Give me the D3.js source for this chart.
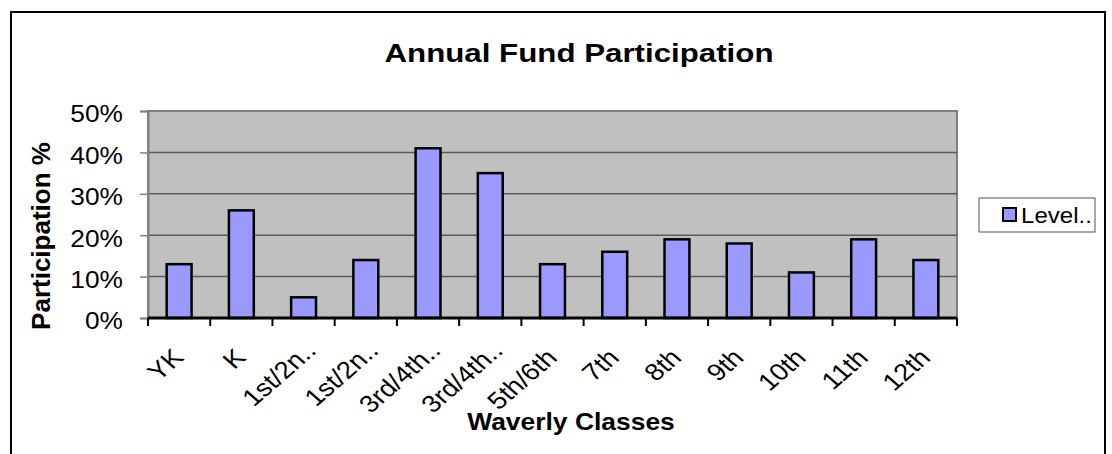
<!DOCTYPE html>
<html>
<head>
<meta charset="utf-8">
<script src="https://cdn.jsdelivr.net/npm/d3@7"></script>
<style>
  body { margin: 0; background: #fff; }
  text { font-family: "Liberation Sans", Arial, sans-serif; fill: #000; }
</style>
</head>
<body>
<svg id="chart"></svg>
<script>
var categories = ["YK", "K", "1st/2n..", "1st/2n..", "3rd/4th..", "3rd/4th..", "5th/6th",
                  "7th", "8th", "9th", "10th", "11th", "12th"];
var values = [0.13, 0.26, 0.05, 0.14, 0.41, 0.35, 0.13, 0.16, 0.19, 0.18, 0.11, 0.19, 0.14];
var yTicks = [0, 0.1, 0.2, 0.3, 0.4, 0.5];
var seriesName = "Level..";

var width = 1112, height = 454;
var plot = {left: 148, right: 957, top: 111, bottom: 318};

var svg = d3.select("#chart")
    .attr("width", width)
    .attr("height", height);

// outer chart border (runs off the bottom)
svg.append("rect")
    .attr("x", 11).attr("y", 12)
    .attr("width", 1094).attr("height", 470)
    .attr("fill", "#fff")
    .attr("stroke", "#000")
    .attr("stroke-width", 2);

var x = d3.scaleBand()
    .domain(d3.range(categories.length))
    .range([plot.left, plot.right])
    .padding(0);

var y = d3.scaleLinear()
    .domain([0, 0.5])
    .range([plot.bottom, plot.top]);

// plot area
svg.append("rect")
    .attr("x", plot.left).attr("y", plot.top)
    .attr("width", plot.right - plot.left)
    .attr("height", plot.bottom - plot.top)
    .attr("fill", "#c0c0c0")
    .attr("stroke", "#808080")
    .attr("stroke-width", 2);

// gridlines
svg.selectAll(".grid")
    .data(yTicks.filter(function(d) { return d > 0 && d < 0.5; }))
    .enter()
    .append("line")
    .attr("class", "grid")
    .attr("x1", plot.left).attr("x2", plot.right)
    .attr("y1", function(d) { return y(d); })
    .attr("y2", function(d) { return y(d); })
    .attr("stroke", "#5a5a5a")
    .attr("stroke-width", 1.5);

// bars
var bw = x.bandwidth() * 0.4;
svg.selectAll(".bar")
    .data(values)
    .enter()
    .append("rect")
    .attr("class", "bar")
    .attr("x", function(d, i) { return x(i) + (x.bandwidth() - bw) / 2; })
    .attr("y", function(d) { return y(d); })
    .attr("width", bw)
    .attr("height", function(d) { return y(0) - y(d); })
    .attr("fill", "#9999ff")
    .attr("stroke", "#000")
    .attr("stroke-width", 2.5);

// y axis
var yAxis = d3.axisLeft(y)
    .tickValues(yTicks)
    .tickSize(8)
    .tickFormat(d3.format(".0%"));

var gy = svg.append("g")
    .attr("transform", "translate(" + plot.left + ",0)")
    .call(yAxis);
gy.select(".domain").attr("stroke", "#808080").attr("stroke-width", 2);
gy.selectAll(".tick line").attr("stroke", "#808080").attr("stroke-width", 1.5);
gy.selectAll(".tick text")
    .attr("x", null)
    .attr("dy", "0.46em")
    .attr("text-anchor", "end")
    .attr("transform", "translate(-25,0) scale(1.12,1)")
    .style("font-size", "23.5px");

// x axis: line along 0% with ticks on category boundaries
var bounds = d3.range(categories.length + 1).map(function(i) {
    return i < categories.length ? x(i) : plot.right;
});
svg.append("line")
    .attr("x1", plot.left).attr("x2", plot.right)
    .attr("y1", y(0)).attr("y2", y(0))
    .attr("stroke", "#000")
    .attr("stroke-width", 3);
svg.selectAll(".xtick")
    .data(bounds)
    .enter()
    .append("line")
    .attr("class", "xtick")
    .attr("x1", function(d) { return d; })
    .attr("x2", function(d) { return d; })
    .attr("y1", y(0)).attr("y2", y(0) + 8)
    .attr("stroke", "#000")
    .attr("stroke-width", 2);

// truncated labels get a wider trailing ellipsis in the original
svg.selectAll(".xlabel")
    .data(categories)
    .enter()
    .append("text")
    .attr("class", "xlabel")
    .attr("text-anchor", "end")
    .attr("dx", function(d) { return /\.\.$/.test(d) ? 10 : 0; })
    .attr("transform", function(d, i) {
        var cx = x(i) + x.bandwidth() / 2 + 6;
        return "translate(" + cx + "," + (y(0) + 41) + ") scale(1.15,1) rotate(-45)";
    })
    .style("font-size", "24px")
    .text(function(d) { return d; });

// titles
svg.append("text")
    .attr("text-anchor", "middle")
    .attr("transform", "translate(579,62) scale(1.18,1)")
    .style("font-size", "26.5px")
    .style("font-weight", "bold")
    .text("Annual Fund Participation");

svg.append("text")
    .attr("text-anchor", "middle")
    .attr("transform", "translate(571,430) scale(1.15,1)")
    .style("font-size", "23px")
    .style("font-weight", "bold")
    .text("Waverly Classes");

svg.append("text")
    .attr("text-anchor", "middle")
    .attr("transform", "translate(50,236) rotate(-90)")
    .style("font-size", "26px")
    .style("font-weight", "bold")
    .text("Participation %");

// legend
var legend = svg.append("g");
legend.append("rect")
    .attr("x", 979).attr("y", 198)
    .attr("width", 116).attr("height", 34)
    .attr("fill", "#fff")
    .attr("stroke", "#555")
    .attr("stroke-width", 1);
legend.append("rect")
    .attr("x", 1003).attr("y", 208)
    .attr("width", 13).attr("height", 13)
    .attr("fill", "#9999ff")
    .attr("stroke", "#000")
    .attr("stroke-width", 2);
legend.append("text")
    .attr("transform", "translate(1021,223) scale(1.12,1)")
    .style("font-size", "21.5px")
    .text(seriesName);
</script>
</body>
</html>
